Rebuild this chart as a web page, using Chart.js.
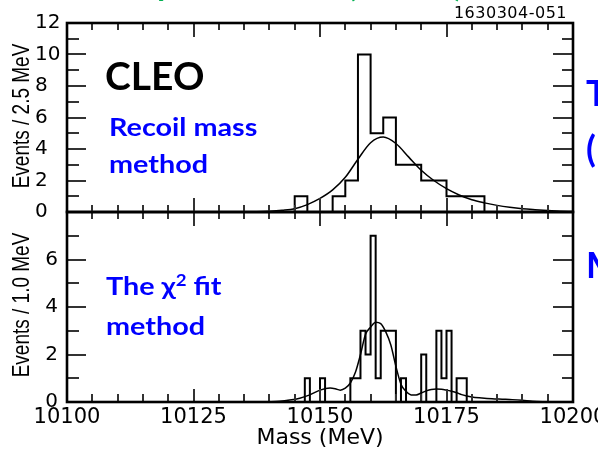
<!DOCTYPE html>
<html>
<head>
<meta charset="utf-8">
<script src="https://cdn.jsdelivr.net/npm/chart.js@4.4.1/dist/chart.umd.min.js"></script>
<style>
  html, body { margin: 0; padding: 0; background: #fff; }
  #page { position: relative; width: 598px; height: 449px; overflow: hidden; background: #fff; }
  canvas { position: absolute; left: 0; top: 0; }
  .txt { position: absolute; white-space: nowrap; line-height: 1; }
  .slide { font-family: Lato, "Open Sans", sans-serif; font-weight: 700; }
  .blue { color: #0000ff; }
  .green { color: #00b050; }
  .stretch { transform-origin: 0 0; transform: scaleX(1.15); }
  .ytitle { position: absolute; font-family: "Liberation Sans", Arial, sans-serif; font-size: 19px;
            line-height: 1; white-space: nowrap; color: #000;
            transform: translate(-50%, -50%) rotate(-90deg) scale(1, 1.25); }
</style>
</head>
<body>
<div id="page">
  <canvas id="lower" width="598" height="449"></canvas>
  <canvas id="upper" width="598" height="449"></canvas>

  <div class="ytitle" style="left:21px; top:116px;">Events / 2.5 MeV</div>
  <div class="ytitle" style="left:21px; top:305px;">Events / 1.0 MeV</div>

  <div class="txt" style="right:31px; top:5px; font-family:'DejaVu Sans'; font-size:16px; letter-spacing:0.5px; color:#000;">1630304-051</div>

  <div class="txt slide" style="left:105px; top:56px; font-size:39px; color:#000;">CLEO</div>
  <div class="txt slide blue stretch" style="left:109px; top:114px; font-size:25px;">Recoil mass</div>
  <div class="txt slide blue stretch" style="left:109px; top:151px; font-size:25px;">method</div>
  <div class="txt slide blue stretch" style="left:106px; top:273px; font-size:25px;">The &#967;<sup style="font-size:0.65em; line-height:0;">2</sup> fit</div>
  <div class="txt slide blue stretch" style="left:106px; top:313px; font-size:25px;">method</div>

  <div class="txt slide blue" style="left:586px; top:74px; font-size:36px;">T</div>
  <div class="txt slide blue" style="left:586px; top:130px; font-size:36px;">(</div>
  <div class="txt slide blue" style="left:586px; top:246px; font-size:36px;">M</div>

  <div class="txt slide green" style="left:155px; top:-35px; font-size:34px;">y</div>
  <div class="txt slide green" style="left:347px; top:-34px; font-size:34px;">(</div>
  <div class="txt slide green" style="left:454px; top:-34px; font-size:34px;">)</div>
</div>

<script>
const massMin = 10100;
const massMax = 10200;
const massTicks = [10100, 10125, 10150, 10175, 10200];

// upper panel: recoil mass method, 2.5 MeV bins
const recoilBinLow = [10145, 10147.5, 10150, 10152.5, 10155, 10157.5, 10160, 10162.5, 10165, 10167.5, 10170, 10172.5, 10175, 10177.5, 10180];
const recoilCounts = [1, 0, 0, 1, 2, 10, 5, 6, 3, 3, 2, 2, 1, 1, 1];
const recoilBinWidth = 2.5;
const recoilYTicks = [0, 2, 4, 6, 8, 10, 12];
const recoilFitMass = [10130, 10135, 10137.5, 10140, 10142.5, 10145, 10147.5, 10150, 10152.5, 10155, 10157.5, 10160, 10162.5, 10165, 10167.5,
  10170, 10172.5, 10175, 10177.5, 10180, 10182.5, 10185, 10187.5, 10190, 10192.5, 10195, 10197.5, 10200];
const recoilFitValue = [0, 0.01, 0.02, 0.05, 0.11, 0.21, 0.47, 0.86, 1.4, 2.2, 3.35, 4.4, 4.76, 4.35, 3.5,
  2.65, 2.0, 1.48, 1.08, 0.78, 0.58, 0.42, 0.3, 0.21, 0.15, 0.1, 0.05, 0.03];

// lower panel: chi2 fit method, 1 MeV bins
const chi2BinLow = [10147, 10148, 10149, 10150, 10151, 10152, 10153, 10154, 10155, 10156, 10157, 10158, 10159, 10160, 10161, 10162,
  10163, 10164, 10165, 10166, 10167, 10168, 10169, 10170, 10171, 10172, 10173, 10174, 10175, 10176, 10177, 10178];
const chi2Counts = [1, 0, 0, 1, 0, 0, 0, 0, 0, 1, 1, 3, 2, 7, 1, 3,
  3, 3, 0, 1, 0, 0, 0, 2, 0, 0, 3, 1, 3, 0, 1, 1];
const chi2BinWidth = 1;
const chi2YTicks = [0, 2, 4, 6];
const chi2FitMass = [10138, 10140, 10142, 10144, 10146, 10148, 10150, 10152, 10153, 10154, 10155, 10156, 10157, 10158, 10159,
  10160, 10161, 10162, 10163, 10164, 10165, 10166, 10167, 10168, 10169, 10170, 10171, 10172, 10173, 10174, 10175, 10176, 10177, 10178,
  10180, 10182, 10184, 10186, 10188, 10190, 10192, 10195];
const chi2FitValue = [0, 0.01, 0.03, 0.08, 0.16, 0.3, 0.5, 0.59, 0.56, 0.5, 0.58, 0.8, 1.25, 2.0, 2.85,
  3.15, 3.36, 3.3, 2.95, 2.4, 1.5, 0.75, 0.45, 0.3, 0.3, 0.38, 0.47, 0.53, 0.55, 0.54, 0.5, 0.45, 0.39, 0.31,
  0.21, 0.17, 0.14, 0.12, 0.1, 0.07, 0.03, 0];

const tickFont = {family: 'DejaVu Sans', size: 20};

function outline(lows, counts, width) {
  const pts = [{x: lows[0], y: 0}];
  lows.forEach((m, i) => pts.push({x: m, y: counts[i]}));
  pts.push({x: lows[lows.length - 1] + width, y: 0});
  return pts;
}

function curve(mass, value) {
  return mass.map((m, i) => ({x: m, y: value[i]}));
}

function setTicks(list) {
  return scale => { scale.ticks = list.map(v => ({value: v})); };
}

// inward tick marks and the box round each panel
const frameTicks = {
  id: 'frameTicks',
  afterDatasetsDraw(chart, args, opts) {
    const {ctx, chartArea: a, scales: {x, y}} = chart;
    ctx.save();
    ctx.strokeStyle = '#333';
    ctx.lineWidth = 2;
    ctx.beginPath();
    for (let v = y.min + 1; v < y.max; v += 1) {
      const py = Math.round(y.getPixelForValue(v));
      const major = v % 2 === 0;
      ctx.moveTo(a.left, py);
      ctx.lineTo(a.left + (major ? 19 : 12), py);
      ctx.moveTo(a.right, py);
      ctx.lineTo(a.right - (major ? 20 : 11), py);
    }
    for (let v = x.min + 5; v < x.max; v += 5) {
      const px = Math.round(x.getPixelForValue(v));
      const major = v % 25 === 0;
      if (opts.top) {
        ctx.moveTo(px, a.top);
        ctx.lineTo(px, a.top + (major ? opts.top[1] : opts.top[0]));
      }
      if (opts.bottom) {
        ctx.moveTo(px, a.bottom);
        ctx.lineTo(px, a.bottom - (major ? opts.bottom[1] : opts.bottom[0]));
      }
    }
    ctx.stroke();
    ctx.strokeStyle = '#000';
    ctx.lineWidth = 2.6;
    ctx.strokeRect(a.left, a.top, a.right - a.left, a.bottom - a.top);
    ctx.restore();
  }
};

function datasets(lows, counts, width, mass, value) {
  return [
    {
      data: outline(lows, counts, width),
      stepped: 'before',
      borderColor: '#000',
      borderWidth: 2,
      pointRadius: 0,
      fill: false
    },
    {
      data: curve(mass, value),
      borderColor: '#000',
      borderWidth: 1.5,
      pointRadius: 0,
      tension: 0.4,
      cubicInterpolationMode: 'monotone',
      fill: false
    }
  ];
}

const plainLabel = v => String(v);

new Chart(document.getElementById('upper').getContext('2d'), {
  type: 'line',
  data: {datasets: datasets(recoilBinLow, recoilCounts, recoilBinWidth, recoilFitMass, recoilFitValue)},
  options: {
    responsive: false,
    animation: false,
    devicePixelRatio: 1,
    events: [],
    layout: {padding: {left: 35, top: 23, right: 25, bottom: 237}},
    plugins: {legend: {display: false}, tooltip: {enabled: false}, frameTicks: {top: [7, 14], bottom: [7, 14]}},
    scales: {
      x: {type: 'linear', min: massMin, max: massMax, display: false},
      y: {
        min: 0, max: 12,
        afterBuildTicks: setTicks(recoilYTicks),
        ticks: {font: tickFont, color: '#000', crossAlign: 'far', padding: 0, callback: plainLabel},
        grid: {display: false, drawTicks: false},
        border: {display: false},
        afterFit: s => { s.width = 32; }
      }
    }
  },
  plugins: [frameTicks]
});

new Chart(document.getElementById('lower').getContext('2d'), {
  type: 'line',
  data: {datasets: datasets(chi2BinLow, chi2Counts, chi2BinWidth, chi2FitMass, chi2FitValue)},
  options: {
    responsive: false,
    animation: false,
    devicePixelRatio: 1,
    events: [],
    layout: {padding: {left: 0, top: 212, right: 25, bottom: 0}},
    plugins: {legend: {display: false}, tooltip: {enabled: false}, frameTicks: {top: [7, 14], bottom: [8, 13]}},
    scales: {
      x: {
        type: 'linear', min: massMin, max: massMax,
        afterBuildTicks: setTicks(massTicks),
        ticks: {font: {family: 'DejaVu Sans', size: 21}, color: '#000', padding: 3, maxRotation: 0, autoSkip: false, callback: plainLabel},
        grid: {display: false, drawTicks: false},
        border: {display: false},
        title: {display: true, text: 'Mass (MeV)', color: '#000', font: {family: 'DejaVu Sans', size: 22, lineHeight: 1}, padding: 0},
        afterFit: s => { s.height = 47; s.paddingLeft = 0; s.paddingRight = 0; }
      },
      y: {
        min: 0, max: 8,
        afterBuildTicks: setTicks(chi2YTicks),
        ticks: {font: tickFont, color: '#000', crossAlign: 'near', padding: 9, callback: plainLabel},
        grid: {display: false, drawTicks: false},
        border: {display: false},
        afterFit: s => { s.width = 67; }
      }
    }
  },
  plugins: [frameTicks]
});
</script>
</body>
</html>
